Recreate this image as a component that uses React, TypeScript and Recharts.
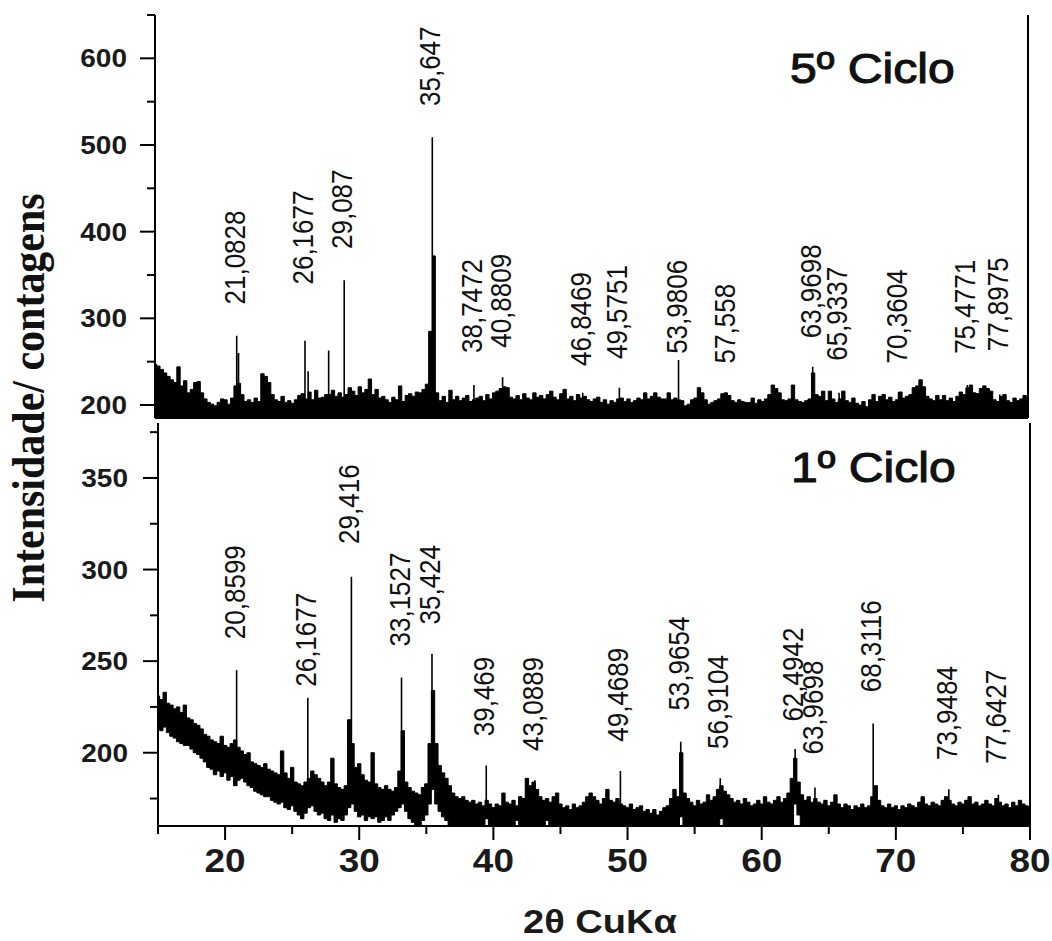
import React from 'react';
import { ComposedChart, Area, Line, Scatter, XAxis, YAxis, ReferenceLine } from 'recharts';

const ANGLE_START = 15;
const ANGLE_STEP = 0.25;

// 5º ciclo: upper edge of the trace, 15°–80° every 0.25° (2θ)
const cycle5Top = [
  247, 245, 241, 237, 233, 229, 226, 244, 222, 228, 214, 218, 226, 227, 214, 207,
  203, 201, 199, 203, 207, 206, 201, 208, 222, 225, 212, 204, 206, 203, 208, 204,
  236, 233, 226, 212, 206, 204, 210, 203, 205, 202, 206, 211, 213, 207, 215, 206,
  217, 208, 209, 212, 212, 217, 210, 214, 209, 212, 220, 216, 211, 221, 214, 218,
  230, 212, 218, 208, 210, 206, 203, 209, 206, 222, 204, 211, 213, 210, 215, 214,
  218, 224, 285, 372, 214, 205, 210, 203, 217, 206, 210, 205, 208, 211, 204, 206,
  208, 210, 205, 212, 207, 214, 216, 219, 221, 220, 209, 207, 211, 206, 213, 208,
  206, 214, 209, 211, 207, 212, 216, 209, 206, 213, 218, 207, 210, 205, 212, 208,
  210, 206, 204, 207, 209, 203, 206, 201, 205, 203, 207, 208, 204, 207, 203, 205,
  208, 206, 214, 207, 210, 214, 209, 207, 207, 214, 206, 208, 206, 205, 199, 201,
  206, 208, 220, 214, 206, 201, 203, 205, 207, 213, 214, 211, 205, 203, 206, 204,
  203, 203, 208, 202, 206, 204, 207, 212, 223, 219, 214, 206, 205, 207, 223, 206,
  204, 203, 205, 207, 237, 212, 210, 216, 205, 216, 207, 203, 207, 216, 205, 203,
  208, 202, 200, 204, 198, 206, 212, 204, 210, 212, 206, 209, 204, 206, 215, 208,
  210, 212, 220, 222, 229, 221, 210, 207, 205, 211, 206, 211, 205, 208, 204, 210,
  215, 212, 220, 223, 214, 213, 219, 222, 219, 216, 206, 204, 210, 212, 205, 203,
  208, 205, 207, 211, 205,
];

// 1º ciclo: upper and lower edges of the trace on the same grid
const cycle1Top = [
  231, 229, 233, 227, 226, 224, 225, 222, 226, 219, 218, 216, 215, 213, 210, 209,
  207, 206, 205, 209, 204, 203, 205, 207, 203, 201, 199, 200, 195, 194, 193, 192,
  194, 191, 190, 189, 188, 201, 189, 186, 192, 184, 183, 182, 184, 186, 190, 188,
  186, 184, 182, 184, 197, 183, 181, 180, 182, 218, 205, 192, 194, 188, 185, 184,
  200, 183, 181, 180, 182, 180, 179, 181, 190, 212, 184, 181, 179, 178, 177, 181,
  183, 205, 234, 205, 193, 189, 186, 182, 178, 176, 175, 176, 174, 173, 174, 172,
  173, 171, 174, 172, 170, 172, 171, 178, 173, 172, 174, 171, 176, 175, 186, 182,
  184, 180, 176, 174, 175, 173, 176, 178, 172, 170, 171, 169, 172, 170, 171, 173,
  176, 178, 176, 174, 172, 175, 180, 174, 173, 175, 172, 171, 170, 172, 169, 170,
  171, 168, 169, 167, 169, 166, 168, 170, 171, 175, 180, 176, 200, 178, 175, 173,
  171, 174, 172, 173, 177, 174, 176, 180, 182, 179, 177, 175, 173, 174, 172, 175,
  173, 171, 172, 174, 172, 176, 173, 172, 174, 176, 173, 175, 178, 186, 197, 184,
  177, 174, 176, 173, 175, 173, 172, 174, 171, 173, 177, 172, 170, 172, 171, 169,
  171, 170, 172, 170, 171, 176, 182, 174, 171, 170, 172, 170, 171, 169, 171, 170,
  172, 171, 170, 173, 176, 172, 171, 173, 172, 171, 174, 176, 174, 172, 171, 173,
  172, 174, 176, 172, 173, 171, 172, 174, 172, 171, 175, 173, 171, 172, 170, 173,
  171, 174, 172, 171, 170,
];

const cycle1Bottom = [
  213, 212, 214, 211, 209, 208, 206, 205, 204, 204, 202, 200, 199, 197, 195, 192,
  191, 188, 190, 187, 189, 185, 187, 182, 185, 186, 184, 182, 181, 179, 178, 177,
  176, 176, 174, 173, 172, 173, 170, 169, 171, 168, 166, 164, 167, 170, 171, 168,
  166, 167, 164, 163, 166, 162, 164, 163, 166, 170, 172, 168, 165, 166, 163, 165,
  164, 165, 162, 163, 165, 163, 166, 168, 170, 172, 168, 164, 162, 160, 160, 163,
  166, 172, 180, 172, 168, 165, 163, 160, 160, 160, 160, 160, 160, 160, 160, 160,
  160, 160, 164, 160, 160, 160, 160, 160, 160, 160, 160, 163, 160, 160, 160, 160,
  160, 160, 160, 160, 163, 160, 160, 160, 160, 160, 160, 160, 160, 160, 160, 160,
  160, 160, 160, 160, 160, 160, 160, 160, 160, 160, 160, 160, 160, 160, 160, 160,
  160, 160, 160, 160, 160, 160, 160, 160, 160, 160, 160, 160, 165, 160, 160, 160,
  160, 160, 160, 160, 160, 160, 160, 160, 164, 160, 160, 160, 160, 160, 160, 160,
  160, 160, 160, 160, 160, 160, 160, 160, 160, 160, 160, 160, 160, 160, 172, 166,
  160, 160, 160, 160, 160, 160, 160, 160, 160, 160, 160, 160, 160, 160, 160, 160,
  160, 160, 160, 160, 160, 160, 160, 160, 160, 160, 160, 160, 160, 160, 160, 160,
  160, 160, 160, 160, 160, 160, 160, 160, 160, 160, 160, 160, 160, 160, 160, 160,
  160, 160, 160, 160, 160, 160, 160, 160, 160, 160, 160, 160, 160, 160, 160, 160,
  160, 160, 160, 160, 160,
];

// labelled reflections: 2θ, peak counts, count level where the label begins
const cycle5Peaks = [21.0828, 26.1677, 29.087, 35.647, 38.7472, 40.8809, 46.8469, 49.5751, 53.9806, 57.558, 63.9698, 65.9337, 70.3604, 75.4771, 77.8975];
const cycle5PeakCounts = [280, 274, 344, 509, 223, 232, 214, 220, 252, 214, 244, 214, 215, 223, 212];
const cycle5LabelAt = [316, 339, 380, 545, 260, 266, 245, 253, 259, 248, 277, 251, 248, 259, 262];
const cycle5Spikes = [21.22, 26.4, 27.93];
const cycle5SpikeCounts = [260, 239, 263];

const cycle1Peaks = [20.8599, 26.1677, 29.416, 33.1527, 35.424, 39.469, 43.0889, 49.4689, 53.9654, 56.9104, 62.4942, 63.9698, 68.3116, 73.9484, 77.6427];
const cycle1PeakCounts = [245, 230, 296, 241, 254, 193, 185, 190, 206, 186, 202, 181, 216, 180, 177];
const cycle1LabelAt = [262, 236, 314, 258, 270, 209, 201, 206, 223, 202, 217, 199, 233, 196, 194];
const cycle1Spikes = [42.46];
const cycle1SpikeCounts = [186];

const angleTicks = [15, 20, 25, 30, 35, 40, 45, 50, 55, 60, 65, 70, 75, 80];
const cycle5Ticks = [200, 250, 300, 350, 400, 450, 500, 550, 600, 650];
const cycle1Ticks = [175, 200, 225, 250, 275, 300, 325, 350, 375];

const SANS = '"Liberation Sans", Arial, sans-serif';
const SERIF = '"Liberation Serif", "Times New Roman", serif';
const INK = '#000';

const traceRows = (top: number[], bottom?: number[]) =>
  top.map((hi, i) => ({
    angle: ANGLE_START + i * ANGLE_STEP,
    hi,
    band: [bottom ? bottom[i] : 0, hi],
  }));

const spikeRows = (angles: number[], counts: number[], floor: number[]) =>
  angles.flatMap((a, i) => [
    { angle: a, v: floor[Math.round((a - ANGLE_START) / ANGLE_STEP)] },
    { angle: a, v: counts[i] },
    { angle: a, v: null },
  ]);

const labelRows = (angles: number[], levels: number[]) =>
  angles.map((a, i) => ({ angle: a, level: levels[i], text: String(a).replace('.', ',') }));

const cycle5Rows = traceRows(cycle5Top);
const cycle1Rows = traceRows(cycle1Top, cycle1Bottom);
const cycle5SpikeRows = spikeRows([...cycle5Peaks, ...cycle5Spikes], [...cycle5PeakCounts, ...cycle5SpikeCounts], cycle5Top);
const cycle1SpikeRows = spikeRows([...cycle1Peaks, ...cycle1Spikes], [...cycle1PeakCounts, ...cycle1SpikeCounts], cycle1Bottom);

const PeakLabel = (props: any) => {
  const { cx, cy, payload } = props;
  return (
    <text
      transform={`translate(${cx + 8},${cy}) scale(1.13,1) rotate(-90)`}
      fontSize={26}
      fontFamily={SANS}
      fill="#111"
    >
      {payload.text}
    </text>
  );
};

// outward ticks on the count axis, labels on the multiples of `every`
const countTick = (every: number, gap: number) => (props: any) => {
  const { x, y, payload } = props;
  const major = payload.value % every === 0;
  return (
    <g>
      <line x1={x} y1={y} x2={x - (major ? 15 : 8)} y2={y} stroke={INK} strokeWidth={2} />
      {major && (
        <text
          transform={`translate(${x - gap},${y}) scale(1.12,1)`}
          dy="0.36em"
          textAnchor="end"
          fontSize={25}
          fontWeight="bold"
          fontFamily={SANS}
          fill="#1a1a1a"
        >
          {payload.value}
        </text>
      )}
    </g>
  );
};

// ticks hanging into the upper panel from its top edge
const InnerAngleTick = (props: any) => {
  const { x, y, payload } = props;
  const major = payload.value % 10 === 0;
  return <line x1={x} y1={y} x2={x} y2={y + (major ? 17 : 8)} stroke={INK} strokeWidth={2} />;
};

const AngleTick = (props: any) => {
  const { x, y, payload } = props;
  const major = payload.value % 10 === 0;
  return (
    <g>
      <line x1={x} y1={y} x2={x} y2={y + (major ? 14 : 8)} stroke={INK} strokeWidth={2} />
      {major && (
        <text
          transform={`translate(${x},${y + 46}) scale(1.12,1)`}
          textAnchor="middle"
          fontSize={33}
          fontWeight="bold"
          fontFamily={SANS}
          fill="#1a1a1a"
        >
          {payload.value}
        </text>
      )}
    </g>
  );
};

const axisStroke = { stroke: INK, strokeWidth: 2 };

const cycleTitle = { fontSize: 43, fontFamily: SANS, fill: '#111', stroke: '#111', strokeWidth: 1.1 };

export default function App() {
  return (
    <div style={{ position: 'absolute', left: 0, top: 0, width: 1052, height: 941, background: '#fff', fontFamily: SANS }}>
      <div style={{ position: 'absolute', left: 0, top: 0 }}>
        <ComposedChart width={1052} height={420} data={cycle5Rows} margin={{ top: 15, right: 24, bottom: 2, left: 95 }}>
          <XAxis
            type="number"
            dataKey="angle"
            orientation="top"
            domain={[15, 80]}
            allowDataOverflow
            ticks={angleTicks.slice(1, -1)}
            interval={0}
            height={0}
            tickSize={0}
            tickMargin={0}
            tickLine={false}
            axisLine={axisStroke}
            tick={InnerAngleTick}
          />
          <YAxis
            type="number"
            domain={[185, 650]}
            allowDataOverflow
            ticks={cycle5Ticks}
            interval={0}
            width={60}
            tickSize={0}
            tickMargin={0}
            tickLine={false}
            axisLine={axisStroke}
            tick={countTick(100, 28)}
          />
          <Area
            type="step"
            dataKey="hi"
            baseValue="dataMin"
            stroke={INK}
            strokeWidth={1}
            fill={INK}
            fillOpacity={1}
            isAnimationActive={false}
          />
          <Line
            data={cycle5SpikeRows}
            dataKey="v"
            type="linear"
            dot={false}
            activeDot={false}
            connectNulls={false}
            stroke={INK}
            strokeWidth={1.6}
            isAnimationActive={false}
          />
          <Scatter
            data={labelRows(cycle5Peaks, cycle5LabelAt)}
            dataKey="level"
            shape={PeakLabel}
            isAnimationActive={false}
          />
          <ReferenceLine y={185} stroke={INK} strokeWidth={2} />
          <ReferenceLine x={80} stroke={INK} strokeWidth={2} />
        </ComposedChart>
      </div>

      <div style={{ position: 'absolute', left: 0, top: 420 }}>
        <ComposedChart width={1052} height={521} data={cycle1Rows} margin={{ top: 3, right: 22, bottom: 0, left: 98 }}>
          <XAxis
            type="number"
            dataKey="angle"
            domain={[15, 80]}
            allowDataOverflow
            ticks={angleTicks}
            interval={0}
            height={115}
            tickSize={0}
            tickMargin={0}
            tickLine={false}
            axisLine={axisStroke}
            tick={AngleTick}
          />
          <YAxis
            type="number"
            domain={[160, 380]}
            allowDataOverflow
            ticks={cycle1Ticks}
            interval={0}
            width={60}
            tickSize={0}
            tickMargin={0}
            tickLine={false}
            axisLine={axisStroke}
            tick={countTick(50, 30)}
          />
          <Area
            type="step"
            dataKey="band"
            stroke={INK}
            strokeWidth={1}
            fill={INK}
            fillOpacity={1}
            isAnimationActive={false}
          />
          <Line
            data={cycle1SpikeRows}
            dataKey="v"
            type="linear"
            dot={false}
            activeDot={false}
            connectNulls={false}
            stroke={INK}
            strokeWidth={1.6}
            isAnimationActive={false}
          />
          <Scatter
            data={labelRows(cycle1Peaks, cycle1LabelAt)}
            dataKey="level"
            shape={PeakLabel}
            isAnimationActive={false}
          />
          <ReferenceLine x={80} stroke={INK} strokeWidth={2} />
        </ComposedChart>
      </div>

      <svg width={1052} height={941} style={{ position: 'absolute', left: 0, top: 0, pointerEvents: 'none' }}>
        <text transform="translate(790,83) scale(1.12,1)" {...cycleTitle}>
          5º Ciclo
        </text>
        <text transform="translate(791,482) scale(1.12,1)" {...cycleTitle}>
          1º Ciclo
        </text>
        <text
          transform="translate(44,398) scale(1.1,1) rotate(-90)"
          textAnchor="middle"
          fontSize={42}
          fontWeight="bold"
          fontFamily={SERIF}
          fill="#111"
        >
          Intensidade/ contagens
        </text>
        <text transform="translate(600,933) scale(1.12,1)" textAnchor="middle" fontSize={34} fontWeight="bold" fontFamily={SANS} fill="#1a1a1a">
          2θ CuKα
        </text>
      </svg>
    </div>
  );
}
